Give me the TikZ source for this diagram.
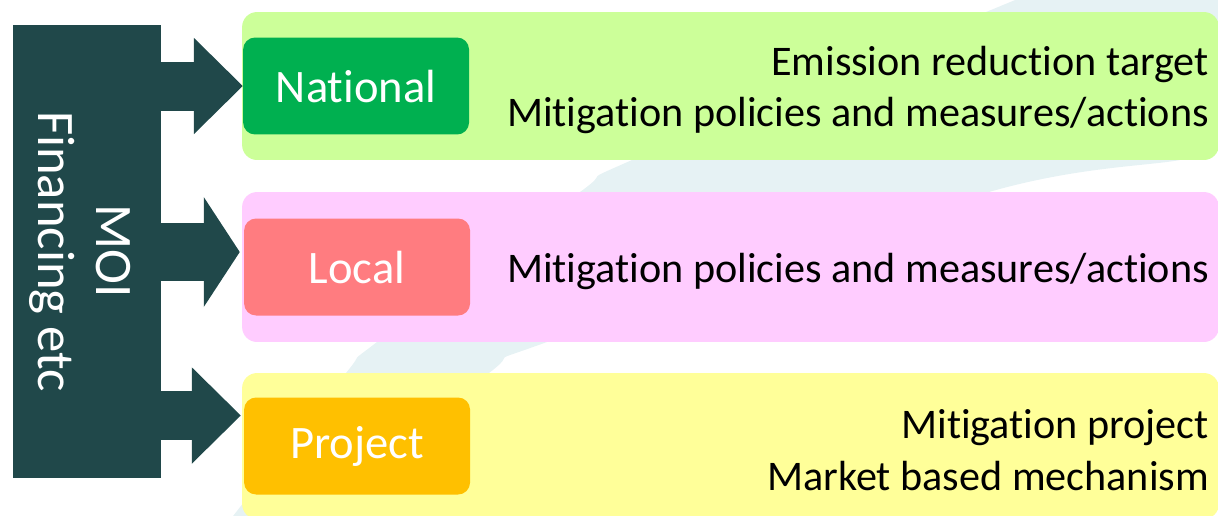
\documentclass[tikz,border=0pt]{standalone}
\usepackage{fontspec}
\setmainfont{Carlito}[Ligatures = NoCommon]
\usetikzlibrary{positioning,arrows.meta}

\definecolor{barteal}{RGB}{32,72,74}
\definecolor{natouter}{RGB}{204,255,153}
\definecolor{natinner}{RGB}{0,176,80}
\definecolor{locouter}{RGB}{255,204,255}
\definecolor{locinner}{RGB}{255,124,128}
\definecolor{proouter}{RGB}{255,255,153}
\definecolor{proinner}{RGB}{255,192,0}
\definecolor{swoosh}{RGB}{230,242,244}

\begin{document}
\begin{tikzpicture}[x = 0.02cm, y = -0.02cm]

    % Define block styles
    \tikzstyle{level} = [rectangle, rounded corners = 0.3cm,
        minimum width = 19.54cm, inner sep = 0pt]
    \tikzstyle{tag} = [rectangle, rounded corners = 0.24cm, minimum width = 4.52cm,
        minimum height = 1.94cm, text = white, font = \fontsize{26.5}{30}\selectfont]
    \tikzstyle{desc} = [inner sep = 0pt, align = right, font = \fontsize{24}{29.5}\selectfont]
    \tikzstyle{line} = [draw = barteal, line width = 0.98cm,
        -{Triangle[length = 0.98cm, width = 1.93cm, line width = 0pt]}]

    \useasboundingbox (0,0) rectangle (1218,515);

    % Background swoosh
    \fill [swoosh] plot [smooth] coordinates {(226,525) (346,373) (377,342) (580,192)
        (632,160) (1003,5) (1030,-5)} -- (1225,-5) -- (1225,148)
        -- plot [smooth] coordinates {(1225,148) (1180,160) (989,192) (547,342)
        (489,373) (304,525)} -- cycle;

    % Place nodes
    \node [rectangle, fill = barteal, minimum width = 2.96cm,
        minimum height = 9.06cm] (bar) at (87,251.5) {};
    \node [rotate = -90, text = white, align = center,
        font = \fontsize{30}{33}\selectfont] (moi) at ([xshift = -0.14cm]bar.center) {MOI\\Financing etc};

    \node [level, fill = natouter, minimum height = 2.96cm] (nationalbox) at (730.5,86) {};
    \node [level, fill = locouter, minimum height = 3.0cm] (localbox) at (730.5,267) {};
    \node [level, fill = proouter, minimum height = 2.92cm] (projectbox) at (730.5,446) {};

    \node [tag, fill = natinner, right = 0.02cm of nationalbox.west] (national) {National};
    \node [tag, fill = locinner, right = 0.04cm of localbox.west] (local) {Local};
    \node [tag, fill = proinner, right = 0.04cm of projectbox.west] (project) {Project};

    \node [desc, left = 0.2cm of nationalbox.east, yshift = -0.08cm] (nattext)
        {Emission reduction target\\Mitigation policies and measures/actions};
    \node [desc, left = 0.2cm of localbox.east, yshift = -0.08cm] (loctext)
        {Mitigation policies and measures/actions};
    \node [desc, left = 0.2cm of projectbox.east, yshift = -0.08cm] (protext)
        {Mitigation project\\Market based mechanism};

    % Draw edges
    \coordinate (ntip) at (national.west);
    \coordinate (ltip) at ([yshift = 0.3cm, xshift = -0.08cm]local.west);
    \coordinate (ptip) at ([yshift = 0.61cm, xshift = -0.06cm]project.west);
    \path [line] (bar.east |- ntip) -- (ntip);
    \path [line, line width = 1.16cm,
        -{Triangle[length = 0.72cm, width = 2.2cm, line width = 0pt]}] (bar.east |- ltip) -- (ltip);
    \path [line] (bar.east |- ptip) -- (ptip);

\end{tikzpicture}
\end{document}
